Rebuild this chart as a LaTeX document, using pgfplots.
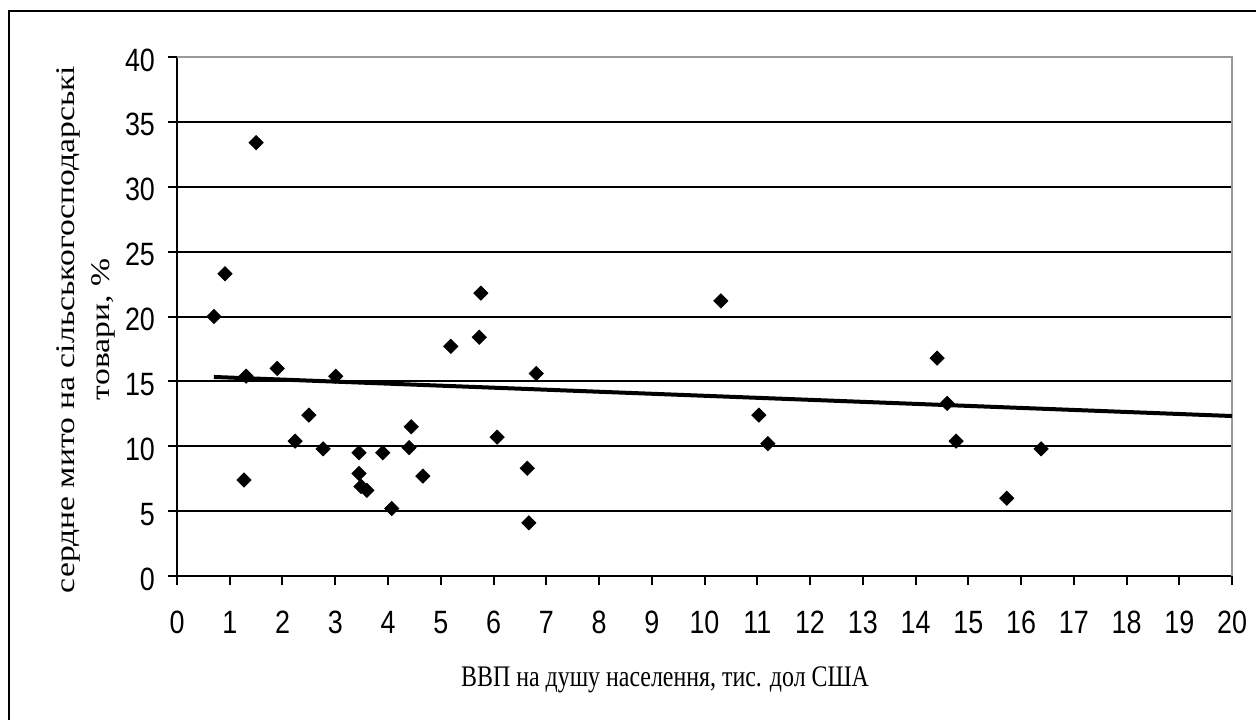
\documentclass[border=0pt]{standalone}
\usepackage{graphicx}
\usepackage{pgfplots}
\pgfplotsset{compat=1.18}
\usepackage{fontspec}
\setmainfont{Liberation Serif}
\newfontfamily\arialfont{Liberation Sans}

\begin{document}
\begin{tikzpicture}
\begin{axis}[
    at={(0,0)}, anchor=south west,
    scale only axis,
    width=527.5bp, height=259.5bp,
    xmin=0, xmax=20, ymin=0, ymax=40,
    xtick={0,1,...,20}, ytick={0,5,...,40},
    axis x line*=bottom, axis y line*=left,
    axis line style={black, line width=1bp},
    tick align=outside, major tick length=4.5bp,
    tick style={black, line width=1bp},
    ymajorgrids,
    major grid style={black, line width=1bp},
    /pgf/number format/assume math mode=true,
    ticklabel style={font=\arialfont\fontsize{13.5}{16}\selectfont},
    xticklabel={\scalebox{1}[1.2]{\pgfmathprintnumber{\tick}}},
    yticklabel={\scalebox{1}[1.2]{\pgfmathprintnumber{\tick}}},
    xticklabel style={anchor=base, yshift=-24bp},
    yticklabel style={anchor=east, xshift=-3bp, yshift=-1.5bp},
    xlabel={\scalebox{1}[1.25]{ВВП на душу населення, тис. дол США}},
    xlabel style={font=\fontsize{12}{14}\selectfont, at={(axis description cs:0.4626,-0.212)}, anchor=base},
    ylabel={\scalebox{1.25}[1]{сердне мито на сільськогосподарські}\\\scalebox{1.25}[1]{товари, \%}},
    ylabel style={font=\fontsize{13.5}{17.5}\selectfont, align=center, at={(axis description cs:-0.0863,0.475)}, anchor=center},
    clip=false]

    % gray box on the top and right
    \draw[gray!80, line width=1bp] (rel axis cs:0,1) -- (rel axis cs:1,1) -- (rel axis cs:1,0);

    \addplot[only marks, mark=square*, mark size=2.5bp, mark options={rotate=45, fill=black, draw=black}] coordinates {
      (0.70,20.0) (0.91,23.3) (1.50,33.4) (1.27,7.4) (1.31,15.4)
      (1.90,16.0) (2.24,10.4) (2.50,12.4) (2.77,9.8) (3.01,15.4)
      (3.45,9.5) (3.45,7.9) (3.49,6.9) (3.60,6.6) (3.90,9.5)
      (4.07,5.2) (4.40,9.9) (4.44,11.5) (4.66,7.7) (5.19,17.7)
      (5.73,18.4) (5.76,21.8) (6.07,10.7) (6.64,8.3) (6.67,4.1)
      (6.81,15.6) (10.31,21.2) (11.03,12.4) (11.20,10.2) (14.41,16.8)
      (14.60,13.3) (14.77,10.4) (15.73,6.0) (16.38,9.8)
    };

    % linear trend
    \addplot[black, line width=2bp] coordinates {(0.7,15.34) (20,12.33)};
\end{axis}
\pgfresetboundingbox
\path[use as bounding box] (-88.5bp,-72bp) rectangle (539.5bp,288bp);
\draw[black, line width=1.3bp] (539.5bp,282.5bp) -- (-84bp,282.5bp) -- (-84bp,-72bp);
\end{tikzpicture}
\end{document}
